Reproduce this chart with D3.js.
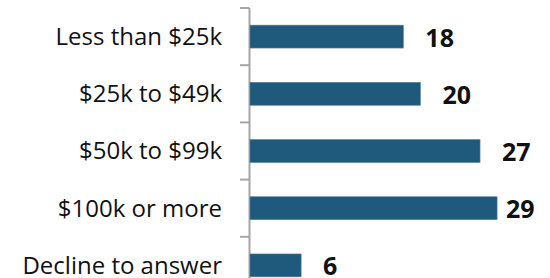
<!DOCTYPE html>
<html>
<head>
<meta charset="utf-8">
<script src="https://cdn.jsdelivr.net/npm/d3@7"></script>
<style>
  body { margin: 0; background: #fff; }
  svg { display: block; }
</style>
</head>
<body>
<div id="chart"></div>
<script>
// data
var categories = ["Less than $25k", "$25k to $49k", "$50k to $99k", "$100k or more", "Decline to answer"];
var values = [18, 20, 27, 29, 6];

var svgWidth = 550;
var svgHeight = 278;

var axisX = 249;
var barColor = "#1f5a7d";
var axisColor = "#a6a6a6";

var svg = d3.select("#chart")
  .append("svg")
  .attr("width", svgWidth)
  .attr("height", svgHeight);

// band scale: bars ~23px tall on a ~57px step, last band runs past the bottom
var yScale = d3.scaleBand()
  .domain(categories)
  .range([8, 294])
  .paddingInner(0.6)
  .paddingOuter(0.3);

var xScale = d3.scaleLinear()
  .domain([0, 30])
  .range([axisX + 1, axisX + 1 + 255.6]);

var gap = (yScale.step() - yScale.bandwidth()) / 2;

// vertical axis line + ticks on band boundaries
svg.append("line")
  .attr("x1", axisX + 0.5)
  .attr("x2", axisX + 0.5)
  .attr("y1", yScale(categories[0]) - gap)
  .attr("y2", svgHeight)
  .attr("stroke", axisColor)
  .attr("stroke-width", 2);

svg.selectAll("line.tick")
  .data(categories)
  .enter()
  .append("line")
  .attr("class", "tick")
  .attr("x1", axisX - 9)
  .attr("x2", axisX + 0.5)
  .attr("y1", d => yScale(d) - gap)
  .attr("y2", d => yScale(d) - gap)
  .attr("stroke", axisColor)
  .attr("stroke-width", 2);

// bars
svg.selectAll("rect.bar")
  .data(values)
  .enter()
  .append("rect")
  .attr("class", "bar")
  .attr("x", xScale(0))
  .attr("y", (d, i) => yScale(categories[i]))
  .attr("width", d => xScale(d) - xScale(0))
  .attr("height", yScale.bandwidth())
  .attr("fill", barColor)
  .attr("stroke", "#4f7f9c")
  .attr("stroke-width", 0.6);

// category labels
svg.selectAll("text.cat")
  .data(categories)
  .enter()
  .append("text")
  .attr("class", "cat")
  .attr("x", 222)
  .attr("y", d => yScale(d) + yScale.bandwidth() / 2)
  .attr("dy", "0.35em")
  .attr("text-anchor", "end")
  .attr("font-family", "'Open Sans', sans-serif")
  .attr("font-size", "24px")
  .attr("fill", "#111")
  .text(d => d);

// value labels
svg.selectAll("text.val")
  .data(values)
  .enter()
  .append("text")
  .attr("class", "val")
  .attr("x", d => Math.min(xScale(d) + 22, 506))
  .attr("y", (d, i) => yScale(categories[i]) + yScale.bandwidth() / 2)
  .attr("dy", "0.4em")
  .attr("font-family", "'Open Sans', sans-serif")
  .attr("font-weight", "bold")
  .attr("font-size", "25px")
  .attr("fill", "#111")
  .text(d => d);
</script>
</body>
</html>
